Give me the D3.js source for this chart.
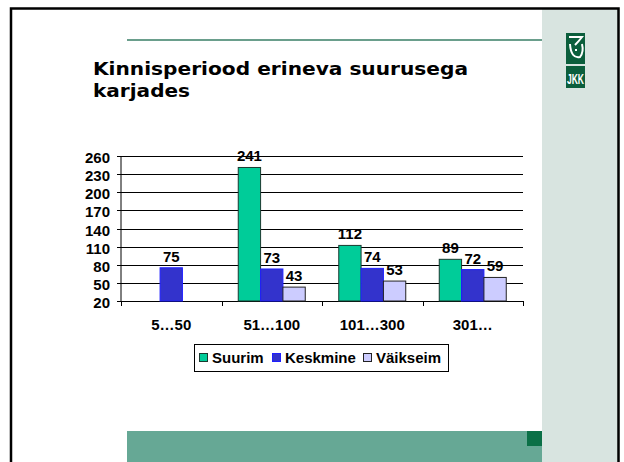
<!DOCTYPE html>
<html>
<head>
<meta charset="utf-8">
<script src="https://cdn.jsdelivr.net/npm/d3@7"></script>
<style>
  html, body { margin: 0; padding: 0; background: #fff; }
  svg { display: block; }
  .lbl { font-family: "Liberation Sans", Arial, sans-serif; font-weight: bold; font-size: 15px; fill: #000; }
</style>
</head>
<body>
<div id="chart"></div>
<script>
// chart data
const categories = ['5…50', '51…100', '101…300', '301…'];
const seriesNames = ['Suurim', 'Keskmine', 'Väikseim'];
const suurim = [null, 241, 112, 89];
const keskmine = [75, 73, 74, 72];
const vaikseim = [null, 43, 53, 59];
const yTicks = [20, 50, 80, 110, 140, 170, 200, 230, 260];
const titleLines = ['Kinnisperiood erineva suurusega', 'karjades'];
const titleWidths = [375, 97];

const fills = ['#00cc99', '#3333cc', '#ccccff'];
const strokes = ['#1a3a30', '#1f1fff', '#222'];

const W = 624, H = 462;
const svg = d3.select('#chart').append('svg')
    .attr('width', W).attr('height', H);

// slide background
svg.append('rect').attr('x', 0).attr('y', 0).attr('width', W).attr('height', H).attr('fill', '#fff');
svg.append('rect').attr('x', 542).attr('y', 9).attr('width', 76).attr('height', H).attr('fill', '#d8e4e0');
svg.append('line').attr('x1', 127).attr('x2', 542).attr('y1', 40).attr('y2', 40)
    .attr('stroke', '#6a9e8c').attr('stroke-width', 2);
svg.append('rect').attr('x', 127).attr('y', 431).attr('width', 415).attr('height', 40).attr('fill', '#66a895');
svg.append('rect').attr('x', 527).attr('y', 431).attr('width', 15).attr('height', 15).attr('fill', '#0b7047');

// logo
const logo = svg.append('g');
logo.append('rect').attr('x', 566).attr('y', 33).attr('width', 19).attr('height', 31).attr('fill', '#0b5e3c');
logo.append('path').attr('d', 'M569,37 L582,37 Q579,41 575,45 M570,44 Q571,59 580,57 Q584,52 582,44 M575,50 L577,50')
    .attr('fill', 'none').attr('stroke', '#fff').attr('stroke-width', 2);
logo.append('rect').attr('x', 566).attr('y', 66).attr('width', 19).attr('height', 22).attr('fill', '#0b5e3c');
logo.append('text').attr('x', 575.5).attr('y', 84).attr('text-anchor', 'middle')
    .attr('font-family', '"Liberation Sans Narrow", "Liberation Sans", sans-serif')
    .attr('font-weight', 'bold').attr('font-size', 14).attr('fill', '#fff')
    .attr('textLength', 17).attr('lengthAdjust', 'spacingAndGlyphs').text('JKK');

// border
svg.append('rect').attr('x', 11).attr('y', 8.5).attr('width', 607.5).attr('height', 470)
    .attr('fill', 'none').attr('stroke', '#000').attr('stroke-width', 2.5);

// title
svg.append('g').selectAll('text').data(titleLines).join('text')
    .attr('x', 93).attr('y', (d, i) => 75 + i * 22)
    .attr('font-family', '"DejaVu Sans", Verdana, sans-serif')
    .attr('font-weight', 'bold').attr('font-size', 18.5).attr('fill', '#000')
    .attr('textLength', (d, i) => titleWidths[i]).attr('lengthAdjust', 'spacingAndGlyphs')
    .text(d => d);

// scales
const x0 = d3.scaleBand().domain(categories).range([121, 523]).padding(0);
const x1 = d3.scaleBand().domain(seriesNames).range([0, x0.bandwidth()]).paddingInner(0).paddingOuter(0.75);
const y = d3.scaleLinear().domain([20, 260]).range([301, 156]);

// gridlines + y labels
svg.append('g').selectAll('line').data(yTicks).join('line')
    .attr('x1', 117).attr('x2', 523)
    .attr('y1', d => Math.round(y(d)) + 0.5).attr('y2', d => Math.round(y(d)) + 0.5)
    .attr('stroke', '#000').attr('stroke-width', 1);
svg.append('g').selectAll('text').data(yTicks).join('text')
    .attr('class', 'lbl').attr('text-anchor', 'end')
    .attr('x', 110).attr('y', d => y(d) + 7)
    .text(d => d);

// y axis line
svg.append('line').attr('x1', 121).attr('x2', 121).attr('y1', y(260)).attr('y2', y(20))
    .attr('stroke', '#000');

// x axis ticks
const bounds = categories.map(c => x0(c)).concat([x0.range()[1]]);
svg.append('g').selectAll('line').data(bounds).join('line')
    .attr('x1', d => Math.round(d) + 0.5).attr('x2', d => Math.round(d) + 0.5)
    .attr('y1', y(20)).attr('y2', y(20) + 5)
    .attr('stroke', '#000');

// bars
const seriesValues = [suurim, keskmine, vaikseim];
const barData = [];
categories.forEach((c, ci) => {
    seriesNames.forEach((s, si) => {
        const v = seriesValues[si][ci];
        if (v != null) barData.push({cat: c, ser: s, si, v});
    });
});

svg.append('g').selectAll('rect').data(barData).join('rect')
    .attr('x', d => x0(d.cat) + x1(d.ser))
    .attr('y', d => y(d.v))
    .attr('width', x1.bandwidth())
    .attr('height', d => y(20) - y(d.v))
    .attr('fill', d => fills[d.si])
    .attr('stroke', d => strokes[d.si]).attr('stroke-width', 1);

svg.append('g').selectAll('text').data(barData).join('text')
    .attr('class', 'lbl').attr('text-anchor', 'middle')
    .attr('x', d => x0(d.cat) + x1(d.ser) + x1.bandwidth() / 2)
    .attr('y', d => y(d.v) - 6)
    .text(d => d.v);

// category labels
svg.append('g').selectAll('text').data(categories).join('text')
    .attr('class', 'lbl').attr('text-anchor', 'middle')
    .attr('x', d => x0(d) + x0.bandwidth() / 2).attr('y', 330)
    .text(d => d);

// legend
const legend = svg.append('g');
legend.append('rect').attr('x', 194.5).attr('y', 344.5).attr('width', 254).attr('height', 27)
    .attr('fill', '#fff').attr('stroke', '#000');
const legX = [199, 272, 363];
const item = legend.selectAll('g').data(seriesNames).join('g')
    .attr('transform', (d, i) => `translate(${legX[i]},0)`);
item.append('rect').attr('x', 0.5).attr('y', 353.5).attr('width', 8).attr('height', 8)
    .attr('fill', (d, i) => fills[i]).attr('stroke', (d, i) => strokes[i]);
item.append('text').attr('class', 'lbl').attr('x', 13).attr('y', 363).text(d => d);
</script>
</body>
</html>
